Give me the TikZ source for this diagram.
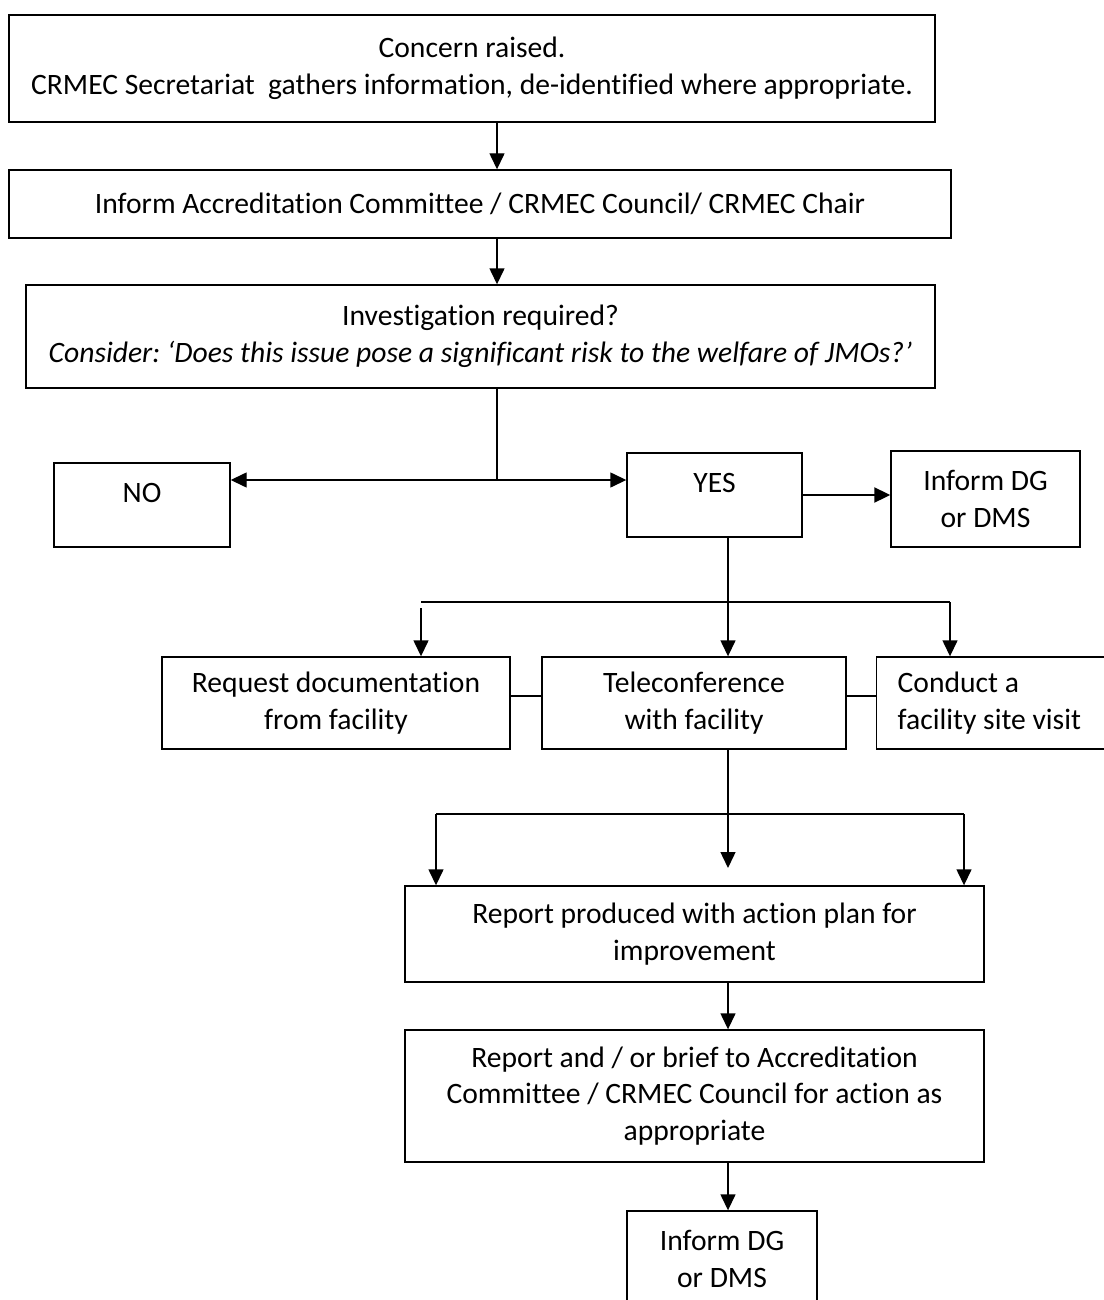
\documentclass[tikz,border=0pt]{standalone}
\usepackage{fontspec}
\setmainfont{Carlito}[Ligatures=NoCommon]
\usetikzlibrary{arrows.meta}
\frenchspacing

\begin{document}
\begin{tikzpicture}[x=0.5pt,y=-0.5pt,line width=0.7pt,
  box/.style={draw, inner sep=0pt, align=center, font=\fontsize{14.8}{18.25}\selectfont},
  arr/.style={-{Triangle[length=8pt,width=7.5pt]}},
  both/.style={{Triangle[length=8pt,width=7.5pt]}-{Triangle[length=8pt,width=7.5pt]}}]

\useasboundingbox (0,0) rectangle (1103,1300);

\node[box, minimum width=463pt, minimum height=53.5pt] (concern) at (472,68.5)
  {Concern raised.\\CRMEC Secretariat~ gathers information, de-identified where appropriate.};
\node[box, minimum width=471pt, minimum height=34pt] (inform) at (480,204)
  {Inform Accreditation Committee / CRMEC Council/ CRMEC Chair};
\node[box, minimum width=454.5pt, minimum height=51.5pt] (invest) at (480.5,336.5)
  {Investigation required?\\\textit{Consider: ‘Does this issue pose a significant risk to the welfare of JMOs?’}};

\node[box, minimum width=88pt, minimum height=42pt] (no) at (142,505) {NO\\[-6pt]~};
\node[box, minimum width=87.5pt, minimum height=42pt] (yes) at (714.5,495) {YES\\[-6pt]~};
\node[box, minimum width=94.5pt, minimum height=48pt] (dgA) at (985.5,499) {Inform DG\\or DMS};

\node[box, minimum width=174pt, minimum height=46pt] (request) at (336,703) {Request documentation\\from facility};
\node[box, minimum width=152pt, minimum height=46pt] (tele) at (694,703) {Teleconference\\with facility};
\node[box, align=flush left, anchor=west, inner xsep=10.5pt, text width=96pt, minimum height=46pt] (visit) at (876,703)
  {Conduct a\\facility site visit};

\node[box, minimum width=289.5pt, minimum height=48pt] (rep1) at (694.5,934)
  {Report produced with action plan for\\improvement};
\node[box, minimum width=289.5pt, minimum height=66pt] (rep2) at (694.5,1096)
  {Report and / or brief to Accreditation\\Committee / CRMEC Council for action as\\appropriate};
\node[box, minimum width=95pt, minimum height=48pt] (dgB) at (722,1259) {Inform DG\\or DMS};

% split points
\coordinate (ax) at (497,480);
\coordinate (tx) at (728,602);
\coordinate (fl) at (421,602);
\coordinate (fr) at (950,602);
\coordinate (gl) at (436,814);
\coordinate (gr) at (964,814);
\coordinate (tip) at (728,868);

\draw[arr] (concern.south -| ax) -- (inform.north -| ax);
\draw[arr] (inform.south -| ax) -- (invest.north -| ax);
\draw (invest.south -| ax) -- (ax);
\draw[both] (no.east |- ax) -- (yes.west |- ax);
\draw[arr, line width=1pt] (yes.east) -- (dgA.west |- yes.east);

\draw[arr] (yes.south -| tx) -- (tele.north -| tx);
\draw (fl) -- (fr);
\draw[arr] ([yshift=-3pt]fl) -- (request.north -| fl);
\draw[arr] (fr) -- (visit.north -| fr);
\draw ([yshift=3.5pt]request.east) -- ([yshift=3.5pt]tele.west);
\draw ([yshift=3.5pt]tele.east) -- ([yshift=3.5pt]visit.west);

\draw[arr] (tele.south -| tx) -- (tip);
\draw (gl) -- (gr);
\draw[arr] (gl) -- (rep1.north -| gl);
\draw[arr] (gr) -- (rep1.north -| gr);
\draw[arr] (rep1.south -| tx) -- (rep2.north -| tx);
\draw[arr] (rep2.south -| tx) -- (dgB.north -| tx);

\end{tikzpicture}
\end{document}
